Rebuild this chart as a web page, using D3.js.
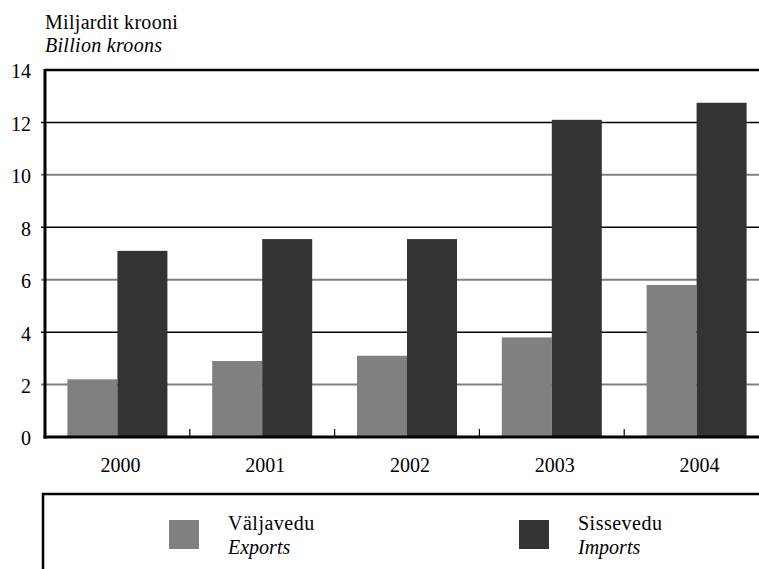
<!DOCTYPE html>
<html><head><meta charset="utf-8">
<script src="https://cdn.jsdelivr.net/npm/d3@7"></script>
<style>
html,body{margin:0;padding:0;background:#fff;}
</style></head>
<body><svg id="c" width="759" height="569" font-family="'Liberation Serif', serif"></svg>
<script>
const years = ["2000","2001","2002","2003","2004"];
const seriesKeys = ["exports","imports"];
const seriesNamesEt = ["Väljavedu","Sissevedu"];
const seriesNamesEn = ["Exports","Imports"];
const seriesColors = ["#808080","#333333"];
const exportsVals = [2.2, 2.9, 3.1, 3.8, 5.8];
const importsVals = [7.1, 7.55, 7.55, 12.1, 12.75];
const yTicks = [0,2,4,6,8,10,12,14];
const titleEt = "Miljardit krooni";
const titleEn = "Billion kroons";

(function(){
const values = {exports: exportsVals, imports: importsVals};
const svg = d3.select("#c");
const FS = 20;
const pLeft = 45, pRight = 769, pTop = 70, pBottom = 437;

const x = d3.scaleBand().domain(years).range([pLeft, pRight]).paddingInner(0).paddingOuter(0);
const bw = x.bandwidth();
const x1 = d3.scaleBand().domain(seriesKeys).range([0, bw]).paddingInner(0).paddingOuter(0.448);
const y = d3.scaleLinear().domain([0,14]).range([pBottom, pTop]);

// gridlines
svg.append("g").selectAll("line").data(yTicks.filter(d=>d>0 && d<14)).join("line")
  .attr("x1", pLeft-4).attr("x2", 759)
  .attr("y1", d=>y(d)).attr("y2", d=>y(d))
  .attr("stroke", d=> (d%4===0) ? "#000" : "#808080")
  .attr("stroke-width", d=> (d%4===0) ? 1.5 : 2);

// top line
svg.append("line").attr("x1", pLeft).attr("x2", 759).attr("y1", y(14)).attr("y2", y(14))
  .attr("stroke","#000").attr("stroke-width",2.5);

// bars
const g = svg.append("g");
seriesKeys.forEach((k,si)=>{
  g.selectAll("rect."+k).data(years).join("rect").attr("class",k)
    .attr("x", d=>x(d)+x1(k))
    .attr("width", x1.bandwidth())
    .attr("y", (d,i)=>y(values[k][i]))
    .attr("height", (d,i)=>y(0)-y(values[k][i]))
    .attr("fill", seriesColors[si]);
});

// category boundary ticks
svg.append("g").selectAll("line").data(years.slice(1)).join("line")
  .attr("x1", d=>x(d)).attr("x2", d=>x(d))
  .attr("y1", pBottom).attr("y2", pBottom-8)
  .attr("stroke","#000").attr("stroke-width",1.2);

// axes lines
svg.append("line").attr("x1", pLeft).attr("x2", pLeft).attr("y1", pTop-1).attr("y2", pBottom+1.5)
  .attr("stroke","#000").attr("stroke-width",3);
svg.append("line").attr("x1", pLeft-1.5).attr("x2", 759).attr("y1", pBottom).attr("y2", pBottom)
  .attr("stroke","#000").attr("stroke-width",3);

// y tick labels
svg.append("g").selectAll("text").data(yTicks).join("text")
  .attr("x", 31).attr("y", d=>y(d)).attr("dy","0.42em")
  .attr("text-anchor","end").attr("font-size",FS).text(d=>d);

// x labels
svg.append("g").selectAll("text").data(years).join("text")
  .attr("x", d=>x(d)+bw/2+3).attr("y", 472)
  .attr("text-anchor","middle").attr("font-size",FS).text(d=>d);

// title
svg.append("text").attr("x",45).attr("y",29).attr("font-size",FS).attr("letter-spacing",0.3).text(titleEt);
svg.append("text").attr("x",45).attr("y",52).attr("font-size",FS).attr("font-style","italic").attr("letter-spacing",0.3).text(titleEn);

// legend box
svg.append("path").attr("d", "M43,569 L43,494 L759,494").attr("fill","none")
  .attr("stroke","#000").attr("stroke-width",2.5);
const legX = [169, 519];
seriesKeys.forEach((k,i)=>{
  svg.append("rect").attr("x",legX[i]).attr("y",520).attr("width",30).attr("height",29).attr("fill",seriesColors[i]);
  svg.append("text").attr("x",legX[i]+59).attr("y",530).attr("font-size",FS).attr("letter-spacing",0.5).text(seriesNamesEt[i]);
  svg.append("text").attr("x",legX[i]+59).attr("y",554).attr("font-size",FS).attr("font-style","italic").text(seriesNamesEn[i]);
});
})();
</script></body></html>
